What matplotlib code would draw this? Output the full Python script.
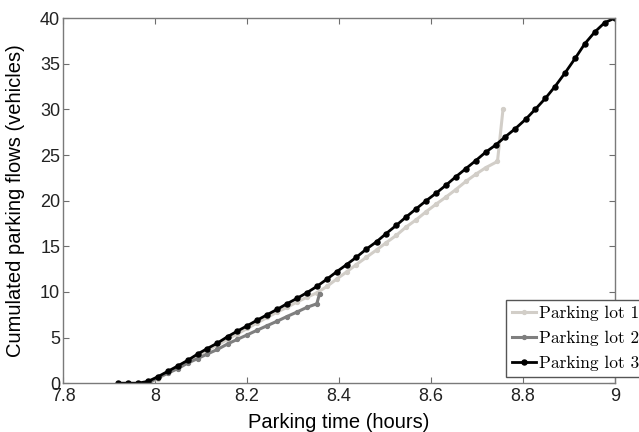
import matplotlib
matplotlib.use('Agg')
from matplotlib import pyplot as plt

# time (hours) sampled about every 1.3 min
time3 = [7.920, 7.942, 7.963, 7.985, 8.006, 8.028, 8.050, 8.071, 8.093, 8.114,
         8.136, 8.158, 8.179, 8.201, 8.222, 8.244, 8.266, 8.287, 8.309, 8.330,
         8.352, 8.374, 8.395, 8.417, 8.438, 8.460, 8.482, 8.503, 8.525, 8.546,
         8.568, 8.590, 8.611, 8.633, 8.654, 8.676, 8.698, 8.719, 8.741, 8.762,
         8.784, 8.806, 8.827, 8.849, 8.870, 8.892, 8.914, 8.935, 8.957, 8.978,
         9.000]
flow3 = [0, 0, 0, 0.2, 0.7, 1.3, 1.9, 2.5, 3.2, 3.8,
         4.4, 5.1, 5.7, 6.3, 6.9, 7.5, 8.1, 8.7, 9.3, 9.9,
         10.6, 11.4, 12.2, 13.0, 13.8, 14.7, 15.5, 16.4, 17.3, 18.2,
         19.1, 20.0, 20.8, 21.7, 22.6, 23.5, 24.4, 25.3, 26.1, 27.0,
         27.9, 28.9, 30.0, 31.2, 32.5, 34.0, 35.6, 37.2, 38.5, 39.5,
         40.0]

time2 = [7.985, 8.006, 8.028, 8.050, 8.071, 8.093, 8.114, 8.136, 8.158, 8.179,
         8.201, 8.222, 8.244, 8.266, 8.287, 8.309, 8.330, 8.352, 8.358]
flow2 = [0, 0.6, 1.1, 1.6, 2.2, 2.7, 3.2, 3.7, 4.3, 4.8,
         5.3, 5.8, 6.3, 6.8, 7.3, 7.8, 8.3, 8.7, 9.8]

time1 = [7.985, 8.006, 8.028, 8.050, 8.071, 8.093, 8.114, 8.136, 8.158, 8.179,
         8.201, 8.222, 8.244, 8.266, 8.287, 8.309, 8.330, 8.352, 8.374, 8.395,
         8.417, 8.438, 8.460, 8.482, 8.503, 8.525, 8.546, 8.568, 8.590, 8.611,
         8.633, 8.654, 8.676, 8.698, 8.719, 8.745, 8.757]
flow1 = [0, 0.5, 1.1, 1.7, 2.3, 3.0, 3.6, 4.2, 4.8, 5.4,
         6.0, 6.6, 7.2, 7.8, 8.3, 8.9, 9.4, 9.9, 10.6, 11.4,
         12.2, 13.0, 13.8, 14.6, 15.4, 16.2, 17.1, 17.9, 18.8, 19.6,
         20.4, 21.2, 22.1, 22.9, 23.6, 24.3, 30.0]

xticks = [7.8, 8.0, 8.2, 8.4, 8.6, 8.8, 9.0]
xticklabels = ['7.8', '8', '8.2', '8.4', '8.6', '8.8', '9']
yticks = [0, 5, 10, 15, 20, 25, 30, 35, 40]

plt.rcParams['font.family'] = ['Liberation Sans', 'DejaVu Sans']

fig = plt.figure(figsize=(6.39, 4.32), dpi=100)
ax = fig.add_axes([0.0986, 0.113, 0.8634, 0.845])

ax.plot(time1, flow1, color='#d2cec8', lw=2.2, marker='o', ms=2.8, label='Parking lot 1')
ax.plot(time2, flow2, color='#7f7f7f', lw=2.2, marker='o', ms=2.8, label='Parking lot 2')
ax.plot(time3, flow3, color='black', lw=2.0, marker='o', ms=3.6, label='Parking lot 3')

ax.set_xlim(7.8, 9.0)
ax.set_ylim(0, 40)
ax.set_xticks(xticks)
ax.set_xticklabels(xticklabels)
ax.set_yticks(yticks)
ax.tick_params(direction='in', length=4, width=0.8, color='#6e6e6e',
               top=True, right=True, labelsize=13, labelcolor='#222222')
ax.tick_params(axis='x', pad=3.5)
ax.tick_params(axis='y', pad=2)
for s in ax.spines.values():
    s.set_color('#7a7a7a')
    s.set_linewidth(1.0)

ax.set_xlabel('Parking time (hours)', fontsize=14.5, labelpad=6)
ax.set_ylabel('Cumulated parking flows (vehicles)', fontsize=14.5, labelpad=11)

leg = ax.legend(loc='lower left', bbox_to_anchor=(0.792, 0.127),
                bbox_transform=fig.transFigure, borderaxespad=0,
                prop={'family': 'cmr10', 'size': 12.5}, fancybox=False,
                framealpha=1, edgecolor='#555555', handlelength=1.4,
                handletextpad=0.15, labelspacing=0.55, borderpad=0.35)
leg.get_frame().set_linewidth(1.0)

fig.savefig('out.png', dpi=100)
